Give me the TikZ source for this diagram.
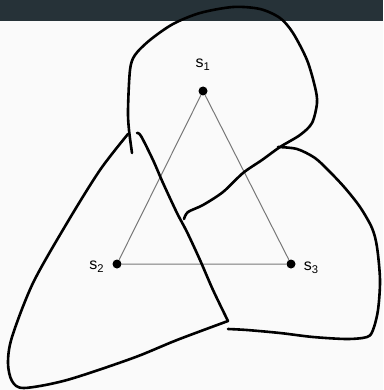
\documentclass[tikz,border=0pt]{standalone}
\usepackage{fontspec}
\setmainfont{Liberation Sans}
\usetikzlibrary{positioning}
\definecolor{barslate}{HTML}{263238}
\definecolor{pagegray}{HTML}{FAFAFA}
\definecolor{edgegray}{RGB}{120,120,120}

\begin{document}
\begin{tikzpicture}[
    x=1pt, y=-1pt,
    vertex/.style={circle, fill=black, inner sep=0pt, minimum size=9pt},
    vlabel/.style={inner sep=0pt, font=\fontsize{16}{19}\selectfont},
    edge/.style={draw=edgegray, line width=1pt},
    region/.style={draw=black, line width=2.6pt, line cap=round, line join=round}
]
    % page and top bar
    \fill[pagegray] (0,0) rectangle (383,390);
    \fill[barslate] (0,0) rectangle (383,21);
    \useasboundingbox (0,0) rectangle (383,390);

    \node[vertex] (s1) at (203,91) {};
    \node[vertex] (s2) at (117,264) {};
    \node[vertex] (s3) at (291,264) {};
    \node[vlabel, above=16pt of s1] (s1lbl) {s\textsubscript{1}};
    \node[vlabel, left=8pt of s2, yshift=-3pt] (s2lbl) {s\textsubscript{2}};
    \node[vlabel, right=8pt of s3, yshift=-4pt] (s3lbl) {s\textsubscript{3}};

    \draw[edge] (s1) -- (s2) -- (s3) -- (s1);

    % hand drawn regions
    \draw[region] plot[smooth] coordinates {(184,219) (188,212) (203,205)
        (223,192) (243,173) (262,160) (280,147) (300,135) (312,123) (317,103)
        (315,87) (307,60) (293,33) (280,18) (260,9) (233,7) (200,13) (173,24)
        (150,40) (135,55) (130,70) (128,110) (129,130) (132,153)};
    \draw[region] plot[smooth] coordinates {(278,147) (297,149) (315,158)
        (330,172) (345,188) (360,207) (372,228) (377,247) (380,280) (378,310)
        (373,330) (367,337) (347,339) (313,337) (280,333) (247,330) (228,329)};
    \draw[region] plot[smooth] coordinates {(137,133) (141,136) (153,160)
        (163,183) (177,213) (187,232) (200,260) (213,290) (228,321)}
        -- plot[smooth] coordinates {(228,321) (177,340) (133,358)
        (67,380) (24,388) (12,381) (8,363) (12,337) (33,283) (67,223)
        (100,170) (128,134)};
\end{tikzpicture}
\end{document}
